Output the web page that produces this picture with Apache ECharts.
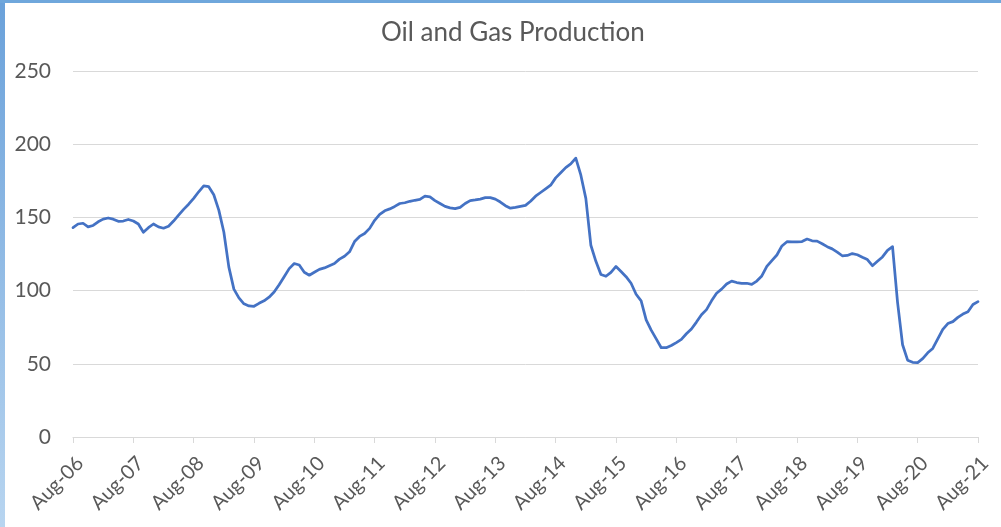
<!DOCTYPE html>
<html>
<head>
<meta charset="utf-8">
<script src="https://cdn.jsdelivr.net/npm/echarts@6/dist/echarts.min.js"></script>
<style>
  html, body { margin: 0; padding: 0; background: #ffffff; }
  #wrap { position: relative; width: 1001px; height: 527px; overflow: hidden; background: #fff; }
  #chart { position: absolute; left: 0; top: 0; width: 1001px; height: 527px; }
  #leftbar { position: absolute; left: 0; top: 0; width: 5px; height: 527px;
    background: linear-gradient(to bottom, #6aa1da, #b8d5f0); z-index: 2; }
  #topbar { position: absolute; left: 0; top: 0; width: 1001px; height: 3px;
    background: #6fa7dc; z-index: 2; }
</style>
</head>
<body>
<div id="wrap">
  <div id="chart"></div>
  <div id="leftbar"></div>
  <div id="topbar"></div>
</div>
<script>
// ---- data ----
const chartTitle = 'Oil and Gas Production';
const startYear = 2006;
const startMonth = 7; // August (0-based)
const monthNames = ['Jan','Feb','Mar','Apr','May','Jun','Jul','Aug','Sep','Oct','Nov','Dec'];

// Monthly production, Aug-06 .. Aug-21
const production2006_2008 = [
  143, 145.5, 146, 143.5, 144.5, 147, 148.8, 149.6, 148.8, 147.3, 147.5, 148.6,
  147.5, 145.5, 139.8, 143, 145.5, 143.5, 142.6, 144, 147.5, 151.5, 155.5, 159
];
const production2008_2010 = [
  163, 167.5, 171.5, 171, 165.5, 155, 140, 116, 101, 95, 91, 89.5,
  89.3, 91.3, 93, 95.5, 99, 104, 109.5, 115, 118.5, 117.5, 112.5, 110.5
];
const production2010_2012 = [
  112.5, 114.5, 115.5, 117, 118.5, 121.5, 123.5, 126.5, 133.5, 137, 139, 142.5,
  148, 152, 154.5, 155.8, 157.5, 159.5, 160, 161, 161.7, 162.3, 164.5, 164
];
const production2012_2014 = [
  161.5, 159.5, 157.5, 156.5, 156, 156.8, 159.5, 161.5, 161.9, 162.5, 163.5, 163.5,
  162.5, 160.5, 158, 156.3, 156.8, 157.5, 158.2, 161, 164.5, 167, 169.5, 172
];
const production2014_2016 = [
  177, 180.5, 184, 186.5, 190.5, 179, 163, 131, 120, 111, 109.8, 112.5,
  116.5, 113, 109.5, 105, 97.5, 93, 80, 73, 67, 61, 61, 62.5
];
const production2016_2018 = [
  64.5, 66.7, 70.5, 73.8, 78.5, 83.5, 87, 93, 98.2, 101, 104.5, 106.5,
  105.5, 105, 105, 104.2, 106.5, 110, 116.5, 120.5, 124.3, 130.5, 133.4, 133.2
];
const production2018_2020 = [
  133.3, 133.5, 135.2, 134, 133.8, 132, 130, 128.5, 126.3, 123.8, 124, 125.3,
  124.5, 122.8, 121.2, 117, 120, 123, 127.5, 130, 92, 63, 52.5, 51
];
const production2020_2021 = [
  50.8, 53.5, 57.5, 60.5, 67, 73.5, 77.5, 78.8, 81.7, 84, 85.6, 90.5,
  92.5
];
const production = [].concat(
  production2006_2008, production2008_2010, production2010_2012, production2012_2014,
  production2014_2016, production2016_2018, production2018_2020, production2020_2021
);

const categories = [];
for (let i = 0; i < production.length; i++) {
  const m = (startMonth + i) % 12;
  const y = startYear + Math.floor((startMonth + i) / 12);
  categories.push(monthNames[m] + '-' + String(y % 100).padStart(2, '0'));
}

const yMin = 0, yMax = 250, yStep = 50;

// ---- chart ----
const FONT = 'Lato, "Open Sans", sans-serif';
const TEXT = '#595959';
const chart = echarts.init(document.getElementById('chart'), null, { renderer: 'canvas' });
chart.setOption({
  animation: false,
  backgroundColor: '#ffffff',
  title: {
    text: chartTitle,
    left: 376,
    top: 15,
    textStyle: { color: TEXT, fontSize: 26, fontWeight: 'normal', fontFamily: FONT }
  },
  grid: { left: 73, right: 23, top: 71, bottom: 90 },
  xAxis: {
    type: 'category',
    boundaryGap: false,
    data: categories,
    axisLine: { lineStyle: { color: '#d9d9d9', width: 1 } },
    axisTick: { interval: 11, length: 6, lineStyle: { color: '#d9d9d9' } },
    axisLabel: { interval: 11, rotate: 45, margin: 16, verticalAlign: 'top',
      color: TEXT, fontSize: 20, fontFamily: FONT },
    splitLine: { show: false }
  },
  yAxis: {
    type: 'value',
    min: yMin, max: yMax, interval: yStep,
    axisLine: { show: false },
    axisTick: { show: false },
    axisLabel: { color: TEXT, fontSize: 21, fontFamily: FONT, margin: 22 },
    splitLine: { lineStyle: { color: '#d9d9d9', width: 1 } }
  },
  series: [{
    type: 'line',
    data: production,
    symbol: 'none',
    smooth: false,
    lineStyle: { color: '#4472C4', width: 2.75, join: 'round', cap: 'round' }
  }]
});
</script>
</body>
</html>
